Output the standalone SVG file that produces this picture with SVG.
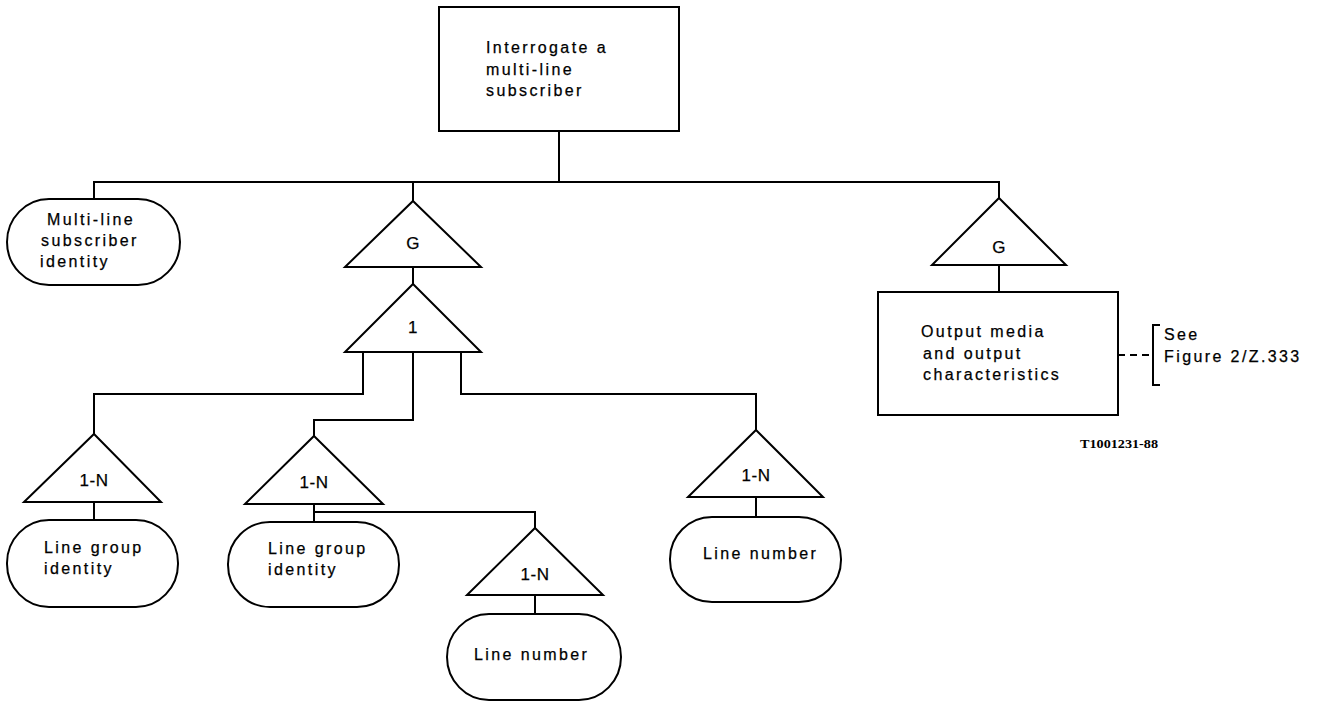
<svg xmlns="http://www.w3.org/2000/svg" width="1323" height="705" viewBox="0 0 1323 705">
<style>
.s{fill:#fff;stroke:#000;stroke-width:2}
.c{fill:none;stroke:#000;stroke-width:2}
.t{font-family:"Liberation Sans",Arial,sans-serif;font-size:16px;letter-spacing:2.4px;fill:#000;stroke:#000;stroke-width:0.25}
.m{text-anchor:middle;letter-spacing:0.5px;font-size:17px}
</style>
<rect width="1323" height="705" fill="#fff"/>
<g id="connectors">
<path class="c" d="M559,131 V182 M94,200 V182 H999 V198 M413,182 V201 M413,267 V284"/>
<path class="c" d="M363,352 V394 H94 V434 M94,502 V520"/>
<path class="c" d="M413,352 V420 H314 V436 M314,504 V522 M314,512 H535 V528 M535,595 V614"/>
<path class="c" d="M461,352 V394 H756 V430 M756,497 V517"/>
<path class="c" d="M999,265 V292"/>
<path class="c" d="M1118,355 H1153" stroke-dasharray="7,5"/>
<path class="c" d="M1160,325 H1153 V385 H1160"/>
</g>
<g id="root">
<rect class="s" x="439" y="7" width="240" height="124"/>
<text class="t" x="486" y="53">Interrogate a</text>
<text class="t" x="486" y="75">multi-line</text>
<text class="t" x="486" y="96">subscriber</text>
</g>
<g id="mls-identity">
<rect class="s" x="7" y="199" width="173" height="86" rx="42" ry="43"/>
<text class="t" x="47" y="225">Multi-line</text>
<text class="t" x="41" y="246">subscriber</text>
<text class="t" x="40" y="267">identity</text>
</g>
<g id="g-left">
<polygon class="s" points="413,201 481,267 345,267"/>
<text class="t m" x="413" y="249">G</text>
</g>
<g id="one">
<polygon class="s" points="413,284 481,352 345,352"/>
<text class="t m" x="413" y="333">1</text>
</g>
<g id="n1">
<polygon class="s" points="94,434 161,502 24,502"/>
<text class="t m" x="94" y="486">1-N</text>
</g>
<g id="lgi1">
<rect class="s" x="7" y="520" width="171" height="87" rx="42" ry="43"/>
<text class="t" x="44" y="553">Line group</text>
<text class="t" x="44" y="574">identity</text>
</g>
<g id="n2">
<polygon class="s" points="314,436 383,504 245,504"/>
<text class="t m" x="314" y="488">1-N</text>
</g>
<g id="lgi2">
<rect class="s" x="228" y="522" width="171" height="85" rx="42" ry="42"/>
<text class="t" x="268" y="554">Line group</text>
<text class="t" x="268" y="575">identity</text>
</g>
<g id="n3">
<polygon class="s" points="535,528 603,595 467,595"/>
<text class="t m" x="535" y="580">1-N</text>
</g>
<g id="ln1">
<rect class="s" x="447" y="614" width="174" height="86" rx="42" ry="43"/>
<text class="t" x="474" y="660">Line number</text>
</g>
<g id="n4">
<polygon class="s" points="756,430 823,497 688,497"/>
<text class="t m" x="756" y="481">1-N</text>
</g>
<g id="ln2">
<rect class="s" x="670" y="517" width="171" height="85" rx="42" ry="42"/>
<text class="t" x="703" y="559">Line number</text>
</g>
<g id="g-right">
<polygon class="s" points="999,198 1066,265 932,265"/>
<text class="t m" x="999" y="253">G</text>
</g>
<g id="output">
<rect class="s" x="878" y="292" width="240" height="123"/>
<text class="t" x="921" y="337">Output media</text>
<text class="t" x="923" y="359">and output</text>
<text class="t" x="923" y="380">characteristics</text>
</g>
<g id="ref">
<text class="t" x="1164" y="340">See</text>
<text class="t" x="1164" y="362">Figure 2/Z.333</text>
</g>
<text x="1080" y="448" font-family="Liberation Serif,serif" font-weight="bold" font-size="12" textLength="78" lengthAdjust="spacingAndGlyphs">T1001231-88</text>
</svg>
